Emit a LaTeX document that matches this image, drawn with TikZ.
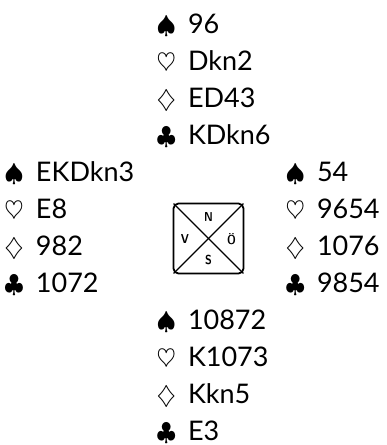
\documentclass[tikz,border=0pt]{standalone}
\usepackage{fontspec}
\setmainfont{Lato}
\usetikzlibrary{positioning}
\tikzset{
  handline/.style={anchor=base west,inner sep=0pt,font=\fontsize{27}{30}\selectfont},
  compass/.style={draw,line width=1.8pt,rounded corners=5pt,minimum size=70pt,inner sep=0pt},
  dirlab/.style={inner sep=0pt,xscale=0.85,font=\fontsize{13}{13}\selectfont\sffamily\bfseries},
  cross/.style={line width=1.2pt,shorten <=1.4pt,shorten >=1.4pt},
}
% one hand: name, x, first baseline, suit/cards list
\newcommand\hand[4]{%
  \foreach \s/\c [count=\i from 1] in {#4}
    \node[handline] (#1-\i) at (#2,{#3+(\i-1)*37}) {\makebox[31.5pt][l]{\fontsize{30}{30}\selectfont$\s$}\c};}

\begin{document}
\begin{tikzpicture}[x=1pt,y=-1pt]
\useasboundingbox (0,0) rectangle (387,445);
\hand{north}{156.3}{33}{\spadesuit/96,\heartsuit/Dkn2,\diamondsuit/ED43,\clubsuit/KDkn6}
\hand{west}{4.3}{181}{\spadesuit/EKDkn3,\heartsuit/E8,\diamondsuit/982,\clubsuit/1072}
\hand{east}{285.3}{181}{\spadesuit/54,\heartsuit/9654,\diamondsuit/1076,\clubsuit/9854}
\hand{south}{156.3}{329}{\spadesuit/10872,\heartsuit/K1073,\diamondsuit/Kkn5,\clubsuit/E3}
% table
\node[compass] (box) at (208.5,238.5) {};
\draw[cross] (box.north west) -- (box.south east);
\draw[cross] (box.north east) -- (box.south west);
\node[dirlab] (n) at ([yshift=21.5pt]box.center) {N};
\node[dirlab] (s) at ([yshift=-21.5pt]box.center) {S};
\node[dirlab] (v) at ([xshift=-23.5pt]box.center) {V};
\node[dirlab] (o) at ([xshift=23pt,yshift=-1pt]box.center) {Ö};
\end{tikzpicture}
\end{document}
